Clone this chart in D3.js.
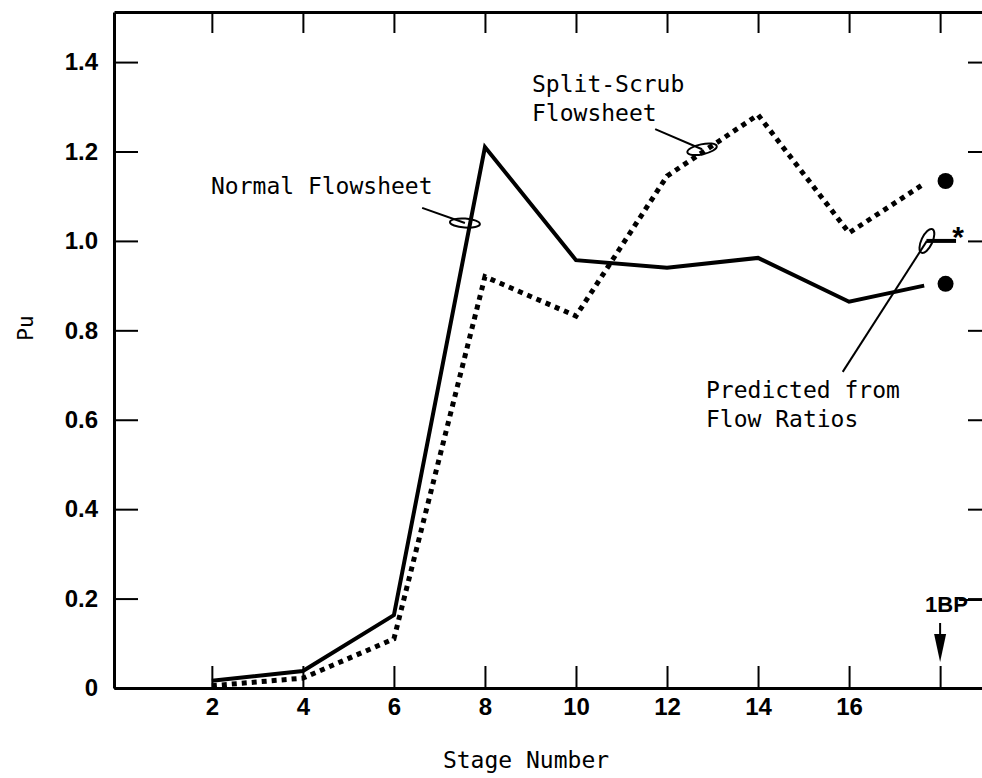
<!DOCTYPE html>
<html>
<head>
<meta charset="utf-8">
<script src="https://cdn.jsdelivr.net/npm/d3@7"></script>
<style>
  body { margin: 0; background: #fff; }
  svg { display: block; }
</style>
</head>
<body>
<div id="viz"></div>
<script>

// stage numbers and Pu values
var stages    = [2, 4, 6, 8, 10, 12, 14, 16, 17.65];
var normalPu  = [0.016, 0.038, 0.163, 1.21, 0.957, 0.94, 0.962, 0.864, 0.9];
var splitPu   = [0.005, 0.022, 0.11, 0.92, 0.832, 1.145, 1.282, 1.018, 1.128];

// 1BP end points (big dots)
var bpStage   = 18;
var dotStage  = 18.12;
var dotPu     = [0.904, 1.134];

// predicted from flow ratios
var predStage = [17.7, 18.35];
var predPu    = 1.0;

var xTicks = [2, 4, 6, 8, 10, 12, 14, 16, 18];
var yTicks = [0, 0.2, 0.4, 0.6, 0.8, 1.0, 1.2, 1.4];

var width = 982, height = 778;
var plotLeft = 114, plotTop = 12, plotRight = 992, plotBottom = 688;

var svg = d3.select('#viz').append('svg')
    .attr('width', width)
    .attr('height', height);

var x = d3.scaleLinear().domain([-0.15, 19.14]).range([plotLeft, plotRight]);
var y = d3.scaleLinear().domain([0, 1.512]).range([plotBottom, plotTop]);

var mono = '"DejaVu Sans Mono", monospace';
var sans = '"Liberation Sans", Arial, sans-serif';

function styleAxis(g) {
  g.attr('font-family', sans).attr('font-size', 24).attr('font-weight', 'bold');
  g.select('.domain').attr('stroke-width', 3);
  g.selectAll('.tick line').attr('stroke-width', 2);
  g.selectAll('.tick text').attr('fill', '#000');
}

// axes
svg.append('g')
    .attr('transform', 'translate(0,' + plotBottom + ')')
    .call(d3.axisBottom(x).tickValues(xTicks).tickSize(-22).tickSizeOuter(0).tickPadding(10)
      .tickFormat(function(d) { return d == 18 ? '' : d; }))
    .call(styleAxis);

svg.append('g')
    .attr('transform', 'translate(0,' + plotTop + ')')
    .call(d3.axisTop(x).tickValues(xTicks).tickSize(-21).tickSizeOuter(0).tickFormat(''))
    .call(styleAxis);

svg.append('g')
    .attr('transform', 'translate(' + plotLeft + ',0)')
    .call(d3.axisLeft(y).tickValues(yTicks).tickSize(-24).tickSizeOuter(0).tickPadding(16)
      .tickFormat(function(d) { return d == 0 ? '0' : d.toFixed(1); }))
    .call(styleAxis);

svg.append('g')
    .attr('transform', 'translate(' + plotRight + ',0)')
    .call(d3.axisRight(y).tickValues(yTicks.slice(1)).tickSize(-24).tickSizeOuter(0).tickFormat(''))
    .call(styleAxis);

// axis titles
svg.append('text')
    .attr('x', 526).attr('y', 768)
    .attr('text-anchor', 'middle')
    .attr('font-family', mono).attr('font-size', 23)
    .text('Stage Number');

svg.append('text')
    .attr('transform', 'translate(33,328) rotate(-90)')
    .attr('text-anchor', 'middle')
    .attr('font-family', mono).attr('font-size', 21)
    .text('Pu');

// series
var line = d3.line()
    .x(function(d) { return x(d[0]); })
    .y(function(d) { return y(d[1]); });

svg.append('path')
    .datum(d3.zip(stages, normalPu))
    .attr('d', line)
    .attr('fill', 'none')
    .attr('stroke', '#000')
    .attr('stroke-width', 4)
    .attr('stroke-linejoin', 'miter');

svg.append('path')
    .datum(d3.zip(stages, splitPu))
    .attr('d', line)
    .attr('fill', 'none')
    .attr('stroke', '#000')
    .attr('stroke-width', 5)
    .attr('stroke-dasharray', '5 5');

svg.selectAll('circle.bp').data(dotPu)
  .enter().append('circle')
    .attr('class', 'bp')
    .attr('cx', x(dotStage))
    .attr('cy', function(d) { return y(d); })
    .attr('r', 8)
    .attr('fill', '#000');

// predicted mark
svg.append('line')
    .attr('x1', x(predStage[0])).attr('x2', x(predStage[1]))
    .attr('y1', y(predPu)).attr('y2', y(predPu))
    .attr('stroke', '#000').attr('stroke-width', 4);

svg.append('text')
    .attr('x', x(predStage[1]) + 2).attr('y', y(predPu) + 6)
    .attr('text-anchor', 'middle')
    .attr('font-family', sans).attr('font-weight', 'bold').attr('font-size', 30)
    .text('*');

// annotations: label, leader line, ellipse
function note(lines, tx, ty, lx1, ly1, ex, ey, rx, ry, rot) {
  var t = svg.append('text')
      .attr('font-family', mono).attr('font-size', 23);
  lines.forEach(function(s, i) {
    t.append('tspan').attr('x', tx).attr('y', ty + i * 29).text(s);
  });
  svg.append('line')
      .attr('x1', lx1).attr('y1', ly1)
      .attr('x2', ex).attr('y2', ey)
      .attr('stroke', '#000').attr('stroke-width', 2);
  svg.append('ellipse')
      .attr('transform', 'translate(' + ex + ',' + ey + ') rotate(' + rot + ')')
      .attr('rx', rx).attr('ry', ry)
      .attr('fill', 'none').attr('stroke', '#000').attr('stroke-width', 2);
}

note(['Normal Flowsheet'], 211, 194,
     x(6.62), y(1.074), x(7.56), y(1.04), 15, 4.5, 4);
note(['Split-Scrub', 'Flowsheet'], 532, 92,
     x(11.74), y(1.25), x(12.77), y(1.205), 15, 5, -12);
note(['Predicted from', 'Flow Ratios'], 706, 398,
     x(15.86), y(0.707), x(17.71), y(1.0), 5.5, 13, 25);

// 1BP arrow
var bx = x(bpStage);
svg.append('text')
    .attr('x', bx - 15).attr('y', 612)
    .attr('font-family', sans).attr('font-weight', 'bold').attr('font-size', 22)
    .text('1BP');
svg.append('line')
    .attr('x1', bx + 19).attr('x2', width)
    .attr('y1', 600).attr('y2', 600)
    .attr('stroke', '#000').attr('stroke-width', 2);
svg.append('line')
    .attr('x1', bx).attr('x2', bx)
    .attr('y1', 623).attr('y2', 645)
    .attr('stroke', '#000').attr('stroke-width', 2);
svg.append('path')
    .attr('d', 'M' + (bx - 6) + ',634 L' + (bx + 6) + ',634 L' + bx + ',662 Z')
    .attr('fill', '#000');

</script>
</body>
</html>
